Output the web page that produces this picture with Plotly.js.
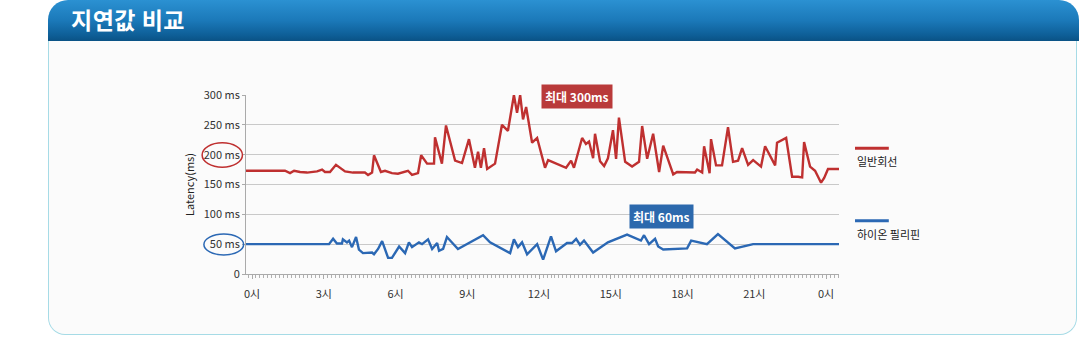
<!DOCTYPE html>
<html>
<head>
<meta charset="utf-8">
<script src="https://cdn.plot.ly/plotly-3.0.1.min.js"></script>
<style>
  html, body { margin: 0; padding: 0; background: #ffffff; }
  body { width: 1079px; height: 337px; position: relative; overflow: hidden; font-family: "Noto Sans CJK KR", "Noto Sans", sans-serif; }
  #header {
    position: absolute; left: 48px; top: 0; width: 1031px; height: 41px;
    border-top-left-radius: 20px; border-top-right-radius: 20px;
    background: linear-gradient(to bottom, #2b91d2 0%, #1b79b9 50%, #0e5f98 85%, #0a5285 100%);
  }
  #header span {
    position: absolute; left: 23px; top: 2px; color: #ffffff; font-size: 23px; font-weight: 700;
    font-family: "Noto Sans CJK KR", sans-serif; letter-spacing: 0.5px;
  }
  #panel {
    position: absolute; left: 48px; top: 41px; width: 1027px; height: 293px;
    background: #fbfbfb; border: 1.5px solid #a6dbe6; border-top: none;
    border-bottom-left-radius: 17px; border-bottom-right-radius: 17px;
  }
  #chart { position: absolute; left: 0; top: 0; width: 1079px; height: 337px; }
</style>
</head>
<body>
<div id="header"><span>지연값 비교</span></div>
<div id="panel"></div>
<div id="chart"></div>
<script>
// time of day in hours
const redHours = [-0.25, 1.38, 1.59, 1.76, 2.01, 2.30, 2.72, 2.93, 3.05, 3.26, 3.51, 3.89, 4.22, 4.72, 4.85, 5.02, 5.10, 5.39, 5.56, 5.85,
  6.10, 6.52, 6.69, 6.94, 7.07, 7.32, 7.61, 7.65, 7.94, 8.11, 8.49, 8.78, 9.07, 9.32, 9.45, 9.57, 9.70, 9.83, 10.16, 10.45,
  10.70, 10.95, 11.08, 11.21, 11.33, 11.46, 11.71, 11.92, 12.25, 12.38, 13.13, 13.34, 13.46, 13.80, 13.96, 14.09, 14.26, 14.34, 14.55, 14.72,
  14.88, 15.09, 15.22, 15.34, 15.60, 15.89, 16.18, 16.31, 16.52, 16.77, 17.02, 17.19, 17.61, 17.77, 18.52, 18.61, 18.82, 18.90, 19.13, 19.19,
  19.40, 19.65, 19.90, 20.11, 20.32, 20.49, 20.74, 20.95, 21.28, 21.45, 21.87, 21.95, 22.33, 22.58, 22.83, 23.00, 23.08, 23.33, 23.54, 23.79,
  23.92, 24.08, 24.54];
const redLatency = [173, 173, 169, 173, 171, 170, 172, 175, 171, 171, 183, 172, 170, 170, 166, 170, 199, 171, 173, 169,
  168, 173, 166, 169, 199, 185, 185, 229, 185, 249, 190, 186, 226, 178, 205, 178, 211, 176, 185, 250,
  240, 300, 270, 300, 259, 280, 220, 228, 178, 191, 178, 190, 178, 228, 218, 222, 194, 235, 189, 181,
  194, 241, 193, 262, 188, 180, 188, 248, 193, 235, 171, 215, 167, 171, 170, 175, 170, 214, 169, 226,
  182, 182, 246, 188, 190, 211, 183, 191, 180, 214, 182, 220, 228, 163, 163, 162, 221, 180, 173, 153,
  161, 176, 176];

const blueHours = [-0.25, 3.22, 3.39, 3.55, 3.76, 3.80, 3.97, 4.06, 4.18, 4.35, 4.47, 4.64, 5.02, 5.10, 5.27, 5.44, 5.69, 5.85, 6.15, 6.40,
  6.56, 6.69, 6.98, 7.11, 7.36, 7.53, 7.74, 7.82, 7.99, 8.15, 8.61, 9.66, 9.95, 10.79, 10.95, 11.12, 11.29, 11.50, 11.92, 12.17,
  12.50, 12.71, 13.17, 13.38, 13.55, 13.71, 13.88, 14.26, 14.88, 15.68, 16.26, 16.39, 16.60, 16.85, 16.98, 17.19, 18.19, 18.36, 19.02, 19.48,
  20.19, 20.95, 24.54];
const blueLatency = [50, 50, 59, 51, 51, 58, 53, 56, 45, 62, 41, 35, 36, 33, 42, 55, 27, 27, 46, 35,
  53, 45, 53, 50, 58, 42, 52, 39, 42, 62, 42, 65, 53, 35, 58, 45, 53, 33, 50, 24,
  63, 38, 52, 52, 59, 49, 56, 36, 53, 66, 56, 65, 50, 59, 46, 41, 43, 56, 50, 67,
  43, 50, 50];

const seriesNames = ['일반회선', '하이온 필리핀'];
const xTickVals = [0, 3, 6, 9, 12, 15, 18, 21, 24];
const xTickText = ['0시', '3시', '6시', '9시', '12시', '15시', '18시', '21시', '0시'];
const yTickVals = [0, 50, 100, 150, 200, 250, 300];
const yTickText = ['0', '50 ms', '100 ms', '150 ms', '200 ms', '250 ms', '300 ms'];
const maxLabels = ['최대 300ms', '최대 60ms'];

const RED = '#bf3030';
const BLUE = '#2b68b4';
const FONT = '"Noto Sans CJK KR", "Noto Sans", sans-serif';

const traces = [
  { x: redHours, y: redLatency, name: seriesNames[0], type: 'scatter', mode: 'lines',
    line: { color: RED, width: 2.4 }, hoverinfo: 'skip' },
  { x: blueHours, y: blueLatency, name: seriesNames[1], type: 'scatter', mode: 'lines',
    line: { color: BLUE, width: 2.4 }, hoverinfo: 'skip' }
];

const layout = {
  width: 1079, height: 337,
  paper_bgcolor: 'rgba(0,0,0,0)', plot_bgcolor: 'rgba(0,0,0,0)',
  margin: { l: 246, r: 240, t: 95, b: 63 },
  showlegend: false,
  font: { family: FONT, size: 11, color: '#333333' },
  xaxis: {
    range: [-0.251, 24.54], tickvals: xTickVals, ticktext: xTickText,
    showgrid: false, zeroline: false, showline: true, linecolor: '#aaaaaa', linewidth: 1,
    ticks: 'outside', ticklen: 4, tickcolor: '#aaaaaa', ticklabelstandoff: 6,
    tickfont: { family: FONT, size: 11, color: '#333333' },
    minor: { dtick: 1/6, ticks: 'outside', ticklen: 3, tickcolor: '#b0b0b0', showgrid: false }
  },
  yaxis: {
    range: [0, 300], tickvals: yTickVals, ticktext: yTickText,
    showgrid: true, gridcolor: '#c9c9c9', gridwidth: 1, zeroline: false,
    showline: true, linecolor: '#aaaaaa', linewidth: 1,
    ticks: 'outside', ticklen: 3, tickcolor: '#aaaaaa',
    tickfont: { family: FONT, size: 11, color: '#333333' },
    title: { text: 'Latency(ms)', font: { family: FONT, size: 11, color: '#222222' }, standoff: 6 }
  },
  shapes: [
    { type: 'circle', xref: 'paper', yref: 'y', x0: -0.074, x1: -0.006, y0: 179, y1: 220,
      line: { color: RED, width: 1.5 } },
    { type: 'circle', xref: 'paper', yref: 'y', x0: -0.071, x1: -0.004, y0: 32, y1: 67,
      line: { color: BLUE, width: 1.5 } },
    { type: 'line', xref: 'paper', yref: 'paper', x0: 1.027, x1: 1.084, y0: 0.703, y1: 0.703,
      line: { color: RED, width: 3 } },
    { type: 'line', xref: 'paper', yref: 'paper', x0: 1.027, x1: 1.084, y0: 0.297, y1: 0.297,
      line: { color: BLUE, width: 3 } }
  ],
  annotations: [
    { x: 13.6, y: 297, xref: 'x', yref: 'y', text: '<b>' + maxLabels[0] + '</b>', showarrow: false,
      bgcolor: '#b93a3a', borderpad: 3, font: { family: FONT, size: 12, color: '#ffffff' } },
    { x: 17.1, y: 97, xref: 'x', yref: 'y', text: '<b>' + maxLabels[1] + '</b>', showarrow: false,
      bgcolor: '#2c69ad', borderpad: 3, font: { family: FONT, size: 12, color: '#ffffff' } },
    { x: 1.027, y: 0.63, xref: 'paper', yref: 'paper', xanchor: 'left', yanchor: 'middle', showarrow: false,
      text: seriesNames[0], font: { family: FONT, size: 11, color: '#222222' } },
    { x: 1.027, y: 0.225, xref: 'paper', yref: 'paper', xanchor: 'left', yanchor: 'middle', showarrow: false,
      text: seriesNames[1], font: { family: FONT, size: 11, color: '#222222' } }
  ]
};

Plotly.newPlot('chart', traces, layout, { staticPlot: true, displayModeBar: false });
</script>
</body>
</html>
